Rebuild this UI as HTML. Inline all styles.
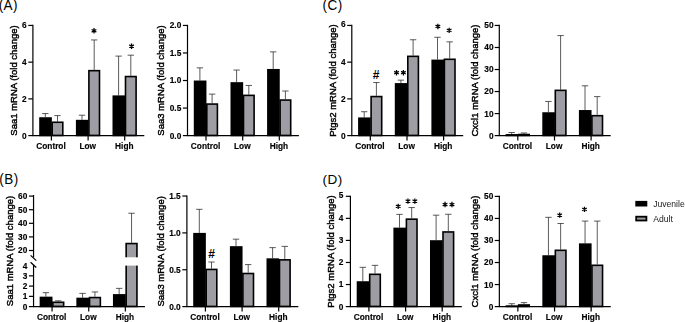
<!DOCTYPE html>
<html><head><meta charset="utf-8"><title>Figure</title>
<style>
html,body{margin:0;padding:0;background:#fff;}
body{width:685px;height:322px;overflow:hidden;font-family:"Liberation Sans",sans-serif;}
svg{display:block;position:absolute;left:0;top:0;}
#g{will-change:transform;}
text{font-family:"Liberation Sans",sans-serif;fill:#000;}
.tk{font-size:8.3px;font-weight:bold;stroke:#000;stroke-width:0.15px;}
.yl{font-size:9.5px;stroke:#000;stroke-width:0.42px;}
.st{font-size:13px;font-weight:bold;}
.hs{font-size:12px;font-weight:bold;}
.lg{font-size:8.6px;fill:#1a1a1a;}
.pl{font-size:13.5px;letter-spacing:0.45px;}
</style></head>
<body>
<svg width="685" height="322" viewBox="0 0 685 322">
<text x="376.20" y="78.50" text-anchor="middle" class="hs">#</text>
<text x="211.60" y="257.60" text-anchor="middle" class="hs">#</text>
<text transform="translate(-1.3 9.55) scale(1 1.06)" class="pl" style="letter-spacing:0.35px">(A)</text>
<text transform="translate(-0.7 183.7) scale(1 1.02)" class="pl">(B)</text>
<text transform="translate(322.6 9.55) scale(1 1.06)" class="pl">(C)</text>
<text transform="translate(322.5 183.8) scale(1 1.0)" class="pl">(D)</text>
</svg>
<svg id="g" width="685" height="322" viewBox="0 0 685 322">
<path d="M45.30 117.24V113.57M42.10 113.57H48.50" stroke="#262626" stroke-width="0.75" fill="none"/>
<path d="M57.50 121.46V115.59M54.30 115.59H60.70" stroke="#262626" stroke-width="0.75" fill="none"/>
<path d="M82.00 119.81V115.22M78.80 115.22H85.20" stroke="#262626" stroke-width="0.75" fill="none"/>
<path d="M94.20 69.87V39.94M91.00 39.94H97.40" stroke="#262626" stroke-width="0.75" fill="none"/>
<path d="M118.60 95.39V56.10M115.40 56.10H121.80" stroke="#262626" stroke-width="0.75" fill="none"/>
<path d="M130.80 75.75V55.18M127.60 55.18H134.00" stroke="#262626" stroke-width="0.75" fill="none"/>
<rect x="40.00" y="118.04" width="11.05" height="17.38" fill="#000" stroke="#000" stroke-width="1.6"/>
<rect x="52.20" y="122.26" width="10.60" height="13.16" fill="#9e9da3" stroke="#000" stroke-width="1.6"/>
<rect x="76.70" y="120.61" width="11.05" height="14.81" fill="#000" stroke="#000" stroke-width="1.6"/>
<rect x="88.90" y="70.67" width="10.60" height="64.75" fill="#9e9da3" stroke="#000" stroke-width="1.6"/>
<rect x="113.30" y="96.19" width="11.05" height="39.23" fill="#000" stroke="#000" stroke-width="1.6"/>
<rect x="125.50" y="76.55" width="10.60" height="58.88" fill="#9e9da3" stroke="#000" stroke-width="1.6"/>
<path d="M32.90 24.84V135.60" stroke="#000" stroke-width="1.2" fill="none"/>
<path d="M32.30 135.60H144.30" stroke="#000" stroke-width="1.2" fill="none"/>
<path d="M28.30 135.60H32.90" stroke="#000" stroke-width="1.2"/>
<text x="26.70" y="138.55" text-anchor="end" class="tk">0</text>
<path d="M28.30 98.88H32.90" stroke="#000" stroke-width="1.2"/>
<text x="26.70" y="101.83" text-anchor="end" class="tk">2</text>
<path d="M28.30 62.16H32.90" stroke="#000" stroke-width="1.2"/>
<text x="26.70" y="65.11" text-anchor="end" class="tk">4</text>
<path d="M28.30 25.44H32.90" stroke="#000" stroke-width="1.2"/>
<text x="26.70" y="28.39" text-anchor="end" class="tk">6</text>
<path d="M51.40 135.60V140.50" stroke="#000" stroke-width="1.2"/>
<text x="51.00" y="149.45" text-anchor="middle" class="tk">Control</text>
<path d="M88.10 135.60V140.50" stroke="#000" stroke-width="1.2"/>
<text x="87.70" y="149.45" text-anchor="middle" class="tk">Low</text>
<path d="M124.70 135.60V140.50" stroke="#000" stroke-width="1.2"/>
<text x="124.30" y="149.45" text-anchor="middle" class="tk">High</text>
<text transform="translate(16.90 80.52) rotate(-90)" text-anchor="middle" class="yl">Saa1 mRNA (fold change)</text>
<path d="M94.00 28.10L94.00 33.50M91.66 29.45L96.34 32.15M96.34 29.45L91.66 32.15" stroke="#000" stroke-width="1.25" fill="none"/>
<path d="M131.55 43.50L131.55 48.90M129.21 44.85L133.89 47.55M133.89 44.85L129.21 47.55" stroke="#000" stroke-width="1.25" fill="none"/>
<path d="M199.90 80.52V67.85M196.70 67.85H203.10" stroke="#262626" stroke-width="0.75" fill="none"/>
<path d="M212.10 103.27V94.12M208.90 94.12H215.30" stroke="#262626" stroke-width="0.75" fill="none"/>
<path d="M236.60 82.17V70.05M233.40 70.05H239.80" stroke="#262626" stroke-width="0.75" fill="none"/>
<path d="M248.80 94.57V85.48M245.60 85.48H252.00" stroke="#262626" stroke-width="0.75" fill="none"/>
<path d="M273.20 68.95V51.88M270.00 51.88H276.40" stroke="#262626" stroke-width="0.75" fill="none"/>
<path d="M285.40 99.25V90.99M282.20 90.99H288.60" stroke="#262626" stroke-width="0.75" fill="none"/>
<rect x="194.60" y="81.32" width="11.05" height="54.10" fill="#000" stroke="#000" stroke-width="1.6"/>
<rect x="206.80" y="104.07" width="10.60" height="31.36" fill="#9e9da3" stroke="#000" stroke-width="1.6"/>
<rect x="231.30" y="82.97" width="11.05" height="52.45" fill="#000" stroke="#000" stroke-width="1.6"/>
<rect x="243.50" y="95.37" width="10.60" height="40.06" fill="#9e9da3" stroke="#000" stroke-width="1.6"/>
<rect x="267.90" y="69.75" width="11.05" height="65.67" fill="#000" stroke="#000" stroke-width="1.6"/>
<rect x="280.10" y="100.05" width="10.60" height="35.38" fill="#9e9da3" stroke="#000" stroke-width="1.6"/>
<path d="M187.50 24.84V135.60" stroke="#000" stroke-width="1.2" fill="none"/>
<path d="M186.90 135.60H298.90" stroke="#000" stroke-width="1.2" fill="none"/>
<path d="M182.90 135.60H187.50" stroke="#000" stroke-width="1.2"/>
<text x="181.30" y="138.55" text-anchor="end" class="tk">0.0</text>
<path d="M182.90 108.06H187.50" stroke="#000" stroke-width="1.2"/>
<text x="181.30" y="111.01" text-anchor="end" class="tk">0.5</text>
<path d="M182.90 80.52H187.50" stroke="#000" stroke-width="1.2"/>
<text x="181.30" y="83.47" text-anchor="end" class="tk">1.0</text>
<path d="M182.90 52.98H187.50" stroke="#000" stroke-width="1.2"/>
<text x="181.30" y="55.93" text-anchor="end" class="tk">1.5</text>
<path d="M182.90 25.44H187.50" stroke="#000" stroke-width="1.2"/>
<text x="181.30" y="28.39" text-anchor="end" class="tk">2.0</text>
<path d="M206.00 135.60V140.50" stroke="#000" stroke-width="1.2"/>
<text x="205.60" y="149.45" text-anchor="middle" class="tk">Control</text>
<path d="M242.70 135.60V140.50" stroke="#000" stroke-width="1.2"/>
<text x="242.30" y="149.45" text-anchor="middle" class="tk">Low</text>
<path d="M279.30 135.60V140.50" stroke="#000" stroke-width="1.2"/>
<text x="278.90" y="149.45" text-anchor="middle" class="tk">High</text>
<text transform="translate(164.10 80.52) rotate(-90)" text-anchor="middle" class="yl">Saa3 mRNA (fold change)</text>
<path d="M364.20 117.42V111.73M361.00 111.73H367.40" stroke="#262626" stroke-width="0.75" fill="none"/>
<path d="M376.40 95.76V82.54M373.20 82.54H379.60" stroke="#262626" stroke-width="0.75" fill="none"/>
<path d="M400.90 83.09V80.15M397.70 80.15H404.10" stroke="#262626" stroke-width="0.75" fill="none"/>
<path d="M413.10 55.55V39.76M409.90 39.76H416.30" stroke="#262626" stroke-width="0.75" fill="none"/>
<path d="M437.50 59.59V37.28M434.30 37.28H440.70" stroke="#262626" stroke-width="0.75" fill="none"/>
<path d="M449.70 58.49V41.87M446.50 41.87H452.90" stroke="#262626" stroke-width="0.75" fill="none"/>
<rect x="358.90" y="118.22" width="11.05" height="17.20" fill="#000" stroke="#000" stroke-width="1.6"/>
<rect x="371.10" y="96.56" width="10.60" height="38.87" fill="#9e9da3" stroke="#000" stroke-width="1.6"/>
<rect x="395.60" y="83.89" width="11.05" height="51.53" fill="#000" stroke="#000" stroke-width="1.6"/>
<rect x="407.80" y="56.35" width="10.60" height="79.07" fill="#9e9da3" stroke="#000" stroke-width="1.6"/>
<rect x="432.20" y="60.39" width="11.05" height="75.04" fill="#000" stroke="#000" stroke-width="1.6"/>
<rect x="444.40" y="59.29" width="10.60" height="76.14" fill="#9e9da3" stroke="#000" stroke-width="1.6"/>
<path d="M351.80 24.84V135.60" stroke="#000" stroke-width="1.2" fill="none"/>
<path d="M351.20 135.60H463.20" stroke="#000" stroke-width="1.2" fill="none"/>
<path d="M347.20 135.60H351.80" stroke="#000" stroke-width="1.2"/>
<text x="345.60" y="138.55" text-anchor="end" class="tk">0</text>
<path d="M347.20 98.88H351.80" stroke="#000" stroke-width="1.2"/>
<text x="345.60" y="101.83" text-anchor="end" class="tk">2</text>
<path d="M347.20 62.16H351.80" stroke="#000" stroke-width="1.2"/>
<text x="345.60" y="65.11" text-anchor="end" class="tk">4</text>
<path d="M347.20 25.44H351.80" stroke="#000" stroke-width="1.2"/>
<text x="345.60" y="27.39" text-anchor="end" class="tk">6</text>
<path d="M370.30 135.60V140.50" stroke="#000" stroke-width="1.2"/>
<text x="369.90" y="149.45" text-anchor="middle" class="tk">Control</text>
<path d="M407.00 135.60V140.50" stroke="#000" stroke-width="1.2"/>
<text x="406.60" y="149.45" text-anchor="middle" class="tk">Low</text>
<path d="M443.60 135.60V140.50" stroke="#000" stroke-width="1.2"/>
<text x="443.20" y="149.45" text-anchor="middle" class="tk">High</text>
<text transform="translate(335.60 80.52) rotate(-90)" text-anchor="middle" class="yl">Ptgs2 mRNA (fold change)</text>
<path d="M396.50 70.00L396.50 75.40M394.16 71.35L398.84 74.05M398.84 71.35L394.16 74.05" stroke="#000" stroke-width="1.25" fill="none"/>
<path d="M403.40 70.00L403.40 75.40M401.06 71.35L405.74 74.05M405.74 71.35L401.06 74.05" stroke="#000" stroke-width="1.25" fill="none"/>
<path d="M437.85 23.75L437.85 29.15M435.51 25.10L440.19 27.80M440.19 25.10L435.51 27.80" stroke="#000" stroke-width="1.25" fill="none"/>
<path d="M449.15 27.70L449.15 33.10M446.81 29.05L451.49 31.75M451.49 29.05L446.81 31.75" stroke="#000" stroke-width="1.25" fill="none"/>
<path d="M511.70 134.06V132.52M508.50 132.52H514.90" stroke="#262626" stroke-width="0.75" fill="none"/>
<path d="M523.90 133.73V132.96M520.70 132.96H527.10" stroke="#262626" stroke-width="0.75" fill="none"/>
<path d="M548.40 112.25V101.45M545.20 101.45H551.60" stroke="#262626" stroke-width="0.75" fill="none"/>
<path d="M560.60 89.56V35.58M557.40 35.58H563.80" stroke="#262626" stroke-width="0.75" fill="none"/>
<path d="M585.00 110.05V85.81M581.80 85.81H588.20" stroke="#262626" stroke-width="0.75" fill="none"/>
<path d="M597.20 114.89V96.61M594.00 96.61H600.40" stroke="#262626" stroke-width="0.75" fill="none"/>
<rect x="506.40" y="134.86" width="11.05" height="0.57" fill="#000" stroke="#000" stroke-width="1.6"/>
<rect x="518.60" y="134.53" width="10.60" height="0.90" fill="#9e9da3" stroke="#000" stroke-width="1.6"/>
<rect x="543.10" y="113.05" width="11.05" height="22.38" fill="#000" stroke="#000" stroke-width="1.6"/>
<rect x="555.30" y="90.36" width="10.60" height="45.07" fill="#9e9da3" stroke="#000" stroke-width="1.6"/>
<rect x="579.70" y="110.85" width="11.05" height="24.58" fill="#000" stroke="#000" stroke-width="1.6"/>
<rect x="591.90" y="115.69" width="10.60" height="19.73" fill="#9e9da3" stroke="#000" stroke-width="1.6"/>
<path d="M499.30 24.85V135.60" stroke="#000" stroke-width="1.2" fill="none"/>
<path d="M498.70 135.60H610.70" stroke="#000" stroke-width="1.2" fill="none"/>
<path d="M494.70 135.60H499.30" stroke="#000" stroke-width="1.2"/>
<text x="493.50" y="138.55" text-anchor="end" class="tk">0</text>
<path d="M494.70 113.57H499.30" stroke="#000" stroke-width="1.2"/>
<text x="493.50" y="116.52" text-anchor="end" class="tk">10</text>
<path d="M494.70 91.54H499.30" stroke="#000" stroke-width="1.2"/>
<text x="493.50" y="94.49" text-anchor="end" class="tk">20</text>
<path d="M494.70 69.51H499.30" stroke="#000" stroke-width="1.2"/>
<text x="493.50" y="72.46" text-anchor="end" class="tk">30</text>
<path d="M494.70 47.48H499.30" stroke="#000" stroke-width="1.2"/>
<text x="493.50" y="50.43" text-anchor="end" class="tk">40</text>
<path d="M494.70 25.45H499.30" stroke="#000" stroke-width="1.2"/>
<text x="493.50" y="28.40" text-anchor="end" class="tk">50</text>
<path d="M517.80 135.60V140.50" stroke="#000" stroke-width="1.2"/>
<text x="517.40" y="149.45" text-anchor="middle" class="tk">Control</text>
<path d="M554.50 135.60V140.50" stroke="#000" stroke-width="1.2"/>
<text x="554.10" y="149.45" text-anchor="middle" class="tk">Low</text>
<path d="M591.10 135.60V140.50" stroke="#000" stroke-width="1.2"/>
<text x="590.70" y="149.45" text-anchor="middle" class="tk">High</text>
<text transform="translate(478.00 80.53) rotate(-90)" text-anchor="middle" class="yl">Cxcl1 mRNA (fold change)</text>
<path d="M199.30 232.90V209.32M196.10 209.32H202.50" stroke="#262626" stroke-width="0.75" fill="none"/>
<path d="M211.50 268.64V262.01M208.30 262.01H214.70" stroke="#262626" stroke-width="0.75" fill="none"/>
<path d="M236.00 246.17V239.16M232.80 239.16H239.20" stroke="#262626" stroke-width="0.75" fill="none"/>
<path d="M248.20 272.70V264.59M245.00 264.59H251.40" stroke="#262626" stroke-width="0.75" fill="none"/>
<path d="M272.60 258.33V247.64M269.40 247.64H275.80" stroke="#262626" stroke-width="0.75" fill="none"/>
<path d="M284.80 259.06V246.39M281.60 246.39H288.00" stroke="#262626" stroke-width="0.75" fill="none"/>
<rect x="194.00" y="233.70" width="11.05" height="72.72" fill="#000" stroke="#000" stroke-width="1.6"/>
<rect x="206.20" y="269.44" width="10.60" height="36.98" fill="#9e9da3" stroke="#000" stroke-width="1.6"/>
<rect x="230.70" y="246.97" width="11.05" height="59.46" fill="#000" stroke="#000" stroke-width="1.6"/>
<rect x="242.90" y="273.50" width="10.60" height="32.93" fill="#9e9da3" stroke="#000" stroke-width="1.6"/>
<rect x="267.30" y="259.13" width="11.05" height="47.30" fill="#000" stroke="#000" stroke-width="1.6"/>
<rect x="279.50" y="259.86" width="10.60" height="46.56" fill="#9e9da3" stroke="#000" stroke-width="1.6"/>
<path d="M186.90 195.45V306.60" stroke="#000" stroke-width="1.2" fill="none"/>
<path d="M186.30 306.60H298.30" stroke="#000" stroke-width="1.2" fill="none"/>
<path d="M182.30 306.60H186.90" stroke="#000" stroke-width="1.2"/>
<text x="180.70" y="309.55" text-anchor="end" class="tk">0.0</text>
<path d="M182.30 269.75H186.90" stroke="#000" stroke-width="1.2"/>
<text x="180.70" y="272.70" text-anchor="end" class="tk">0.5</text>
<path d="M182.30 232.90H186.90" stroke="#000" stroke-width="1.2"/>
<text x="180.70" y="235.85" text-anchor="end" class="tk">1.0</text>
<path d="M182.30 196.05H186.90" stroke="#000" stroke-width="1.2"/>
<text x="180.70" y="199.00" text-anchor="end" class="tk">1.5</text>
<path d="M205.40 306.60V311.50" stroke="#000" stroke-width="1.2"/>
<text x="205.00" y="320.45" text-anchor="middle" class="tk">Control</text>
<path d="M242.10 306.60V311.50" stroke="#000" stroke-width="1.2"/>
<text x="241.70" y="320.45" text-anchor="middle" class="tk">Low</text>
<path d="M278.70 306.60V311.50" stroke="#000" stroke-width="1.2"/>
<text x="278.30" y="320.45" text-anchor="middle" class="tk">High</text>
<text transform="translate(163.50 251.33) rotate(-90)" text-anchor="middle" class="yl">Saa3 mRNA (fold change)</text>
<path d="M362.80 281.23V267.33M359.60 267.33H366.00" stroke="#262626" stroke-width="0.75" fill="none"/>
<path d="M375.00 273.51V265.35M371.80 265.35H378.20" stroke="#262626" stroke-width="0.75" fill="none"/>
<path d="M399.50 227.63V214.39M396.30 214.39H402.70" stroke="#262626" stroke-width="0.75" fill="none"/>
<path d="M411.70 218.36V207.55M408.50 207.55H414.90" stroke="#262626" stroke-width="0.75" fill="none"/>
<path d="M436.10 240.20V215.16M432.90 215.16H439.30" stroke="#262626" stroke-width="0.75" fill="none"/>
<path d="M448.30 231.15V214.28M445.10 214.28H451.50" stroke="#262626" stroke-width="0.75" fill="none"/>
<rect x="357.50" y="282.03" width="11.05" height="24.39" fill="#000" stroke="#000" stroke-width="1.6"/>
<rect x="369.70" y="274.31" width="10.60" height="32.11" fill="#9e9da3" stroke="#000" stroke-width="1.6"/>
<rect x="394.20" y="228.43" width="11.05" height="78.00" fill="#000" stroke="#000" stroke-width="1.6"/>
<rect x="406.40" y="219.16" width="10.60" height="87.27" fill="#9e9da3" stroke="#000" stroke-width="1.6"/>
<rect x="430.80" y="241.00" width="11.05" height="65.43" fill="#000" stroke="#000" stroke-width="1.6"/>
<rect x="443.00" y="231.95" width="10.60" height="74.47" fill="#9e9da3" stroke="#000" stroke-width="1.6"/>
<path d="M350.40 195.70V306.60" stroke="#000" stroke-width="1.2" fill="none"/>
<path d="M349.80 306.60H461.80" stroke="#000" stroke-width="1.2" fill="none"/>
<path d="M345.80 306.60H350.40" stroke="#000" stroke-width="1.2"/>
<text x="343.30" y="309.55" text-anchor="end" class="tk">0</text>
<path d="M345.80 284.54H350.40" stroke="#000" stroke-width="1.2"/>
<text x="343.30" y="287.49" text-anchor="end" class="tk">1</text>
<path d="M345.80 262.48H350.40" stroke="#000" stroke-width="1.2"/>
<text x="343.30" y="265.43" text-anchor="end" class="tk">2</text>
<path d="M345.80 240.42H350.40" stroke="#000" stroke-width="1.2"/>
<text x="343.30" y="243.37" text-anchor="end" class="tk">3</text>
<path d="M345.80 218.36H350.40" stroke="#000" stroke-width="1.2"/>
<text x="343.30" y="221.31" text-anchor="end" class="tk">4</text>
<path d="M345.80 196.30H350.40" stroke="#000" stroke-width="1.2"/>
<text x="343.30" y="198.35" text-anchor="end" class="tk">5</text>
<path d="M368.90 306.60V311.50" stroke="#000" stroke-width="1.2"/>
<text x="368.50" y="320.45" text-anchor="middle" class="tk">Control</text>
<path d="M405.60 306.60V311.50" stroke="#000" stroke-width="1.2"/>
<text x="405.20" y="320.45" text-anchor="middle" class="tk">Low</text>
<path d="M442.20 306.60V311.50" stroke="#000" stroke-width="1.2"/>
<text x="441.80" y="320.45" text-anchor="middle" class="tk">High</text>
<text transform="translate(334.00 251.45) rotate(-90)" text-anchor="middle" class="yl">Ptgs2 mRNA (fold change)</text>
<path d="M398.20 203.70L398.20 209.10M395.86 205.05L400.54 207.75M400.54 205.05L395.86 207.75" stroke="#000" stroke-width="1.25" fill="none"/>
<path d="M407.95 198.40L407.95 203.80M405.61 199.75L410.29 202.45M410.29 199.75L405.61 202.45" stroke="#000" stroke-width="1.25" fill="none"/>
<path d="M414.85 198.40L414.85 203.80M412.51 199.75L417.19 202.45M417.19 199.75L412.51 202.45" stroke="#000" stroke-width="1.25" fill="none"/>
<path d="M445.05 201.85L445.05 207.25M442.71 203.20L447.39 205.90M447.39 203.20L442.71 205.90" stroke="#000" stroke-width="1.25" fill="none"/>
<path d="M451.95 201.85L451.95 207.25M449.61 203.20L454.29 205.90M454.29 203.20L449.61 205.90" stroke="#000" stroke-width="1.25" fill="none"/>
<path d="M511.75 305.28V303.73M508.55 303.73H514.95" stroke="#262626" stroke-width="0.75" fill="none"/>
<path d="M523.95 304.18V302.63M520.75 302.63H527.15" stroke="#262626" stroke-width="0.75" fill="none"/>
<path d="M548.45 255.25V217.34M545.25 217.34H551.65" stroke="#262626" stroke-width="0.75" fill="none"/>
<path d="M560.65 249.52V223.51M557.45 223.51H563.85" stroke="#262626" stroke-width="0.75" fill="none"/>
<path d="M585.05 243.35V221.08M581.85 221.08H588.25" stroke="#262626" stroke-width="0.75" fill="none"/>
<path d="M597.25 264.50V221.08M594.05 221.08H600.45" stroke="#262626" stroke-width="0.75" fill="none"/>
<rect x="506.45" y="306.08" width="11.05" height="0.35" fill="#000" stroke="#000" stroke-width="1.6"/>
<rect x="518.65" y="304.98" width="10.60" height="1.45" fill="#9e9da3" stroke="#000" stroke-width="1.6"/>
<rect x="543.15" y="256.05" width="11.05" height="50.38" fill="#000" stroke="#000" stroke-width="1.6"/>
<rect x="555.35" y="250.32" width="10.60" height="56.11" fill="#9e9da3" stroke="#000" stroke-width="1.6"/>
<rect x="579.75" y="244.15" width="11.05" height="62.28" fill="#000" stroke="#000" stroke-width="1.6"/>
<rect x="591.95" y="265.30" width="10.60" height="41.12" fill="#9e9da3" stroke="#000" stroke-width="1.6"/>
<path d="M499.35 195.80V306.60" stroke="#000" stroke-width="1.2" fill="none"/>
<path d="M498.75 306.60H610.75" stroke="#000" stroke-width="1.2" fill="none"/>
<path d="M494.75 306.60H499.35" stroke="#000" stroke-width="1.2"/>
<text x="493.35" y="309.55" text-anchor="end" class="tk">0</text>
<path d="M494.75 284.56H499.35" stroke="#000" stroke-width="1.2"/>
<text x="493.35" y="287.51" text-anchor="end" class="tk">10</text>
<path d="M494.75 262.52H499.35" stroke="#000" stroke-width="1.2"/>
<text x="493.35" y="265.47" text-anchor="end" class="tk">20</text>
<path d="M494.75 240.48H499.35" stroke="#000" stroke-width="1.2"/>
<text x="493.35" y="243.43" text-anchor="end" class="tk">30</text>
<path d="M494.75 218.44H499.35" stroke="#000" stroke-width="1.2"/>
<text x="493.35" y="221.39" text-anchor="end" class="tk">40</text>
<path d="M494.75 196.40H499.35" stroke="#000" stroke-width="1.2"/>
<text x="493.35" y="199.35" text-anchor="end" class="tk">50</text>
<path d="M517.85 306.60V311.50" stroke="#000" stroke-width="1.2"/>
<text x="517.45" y="320.45" text-anchor="middle" class="tk">Control</text>
<path d="M554.55 306.60V311.50" stroke="#000" stroke-width="1.2"/>
<text x="554.15" y="320.45" text-anchor="middle" class="tk">Low</text>
<path d="M591.15 306.60V311.50" stroke="#000" stroke-width="1.2"/>
<text x="590.75" y="320.45" text-anchor="middle" class="tk">High</text>
<text transform="translate(478.10 251.50) rotate(-90)" text-anchor="middle" class="yl">Cxcl1 mRNA (fold change)</text>
<path d="M559.70 212.40L559.70 217.80M557.36 213.75L562.04 216.45M562.04 213.75L557.36 216.45" stroke="#000" stroke-width="1.25" fill="none"/>
<path d="M584.50 206.70L584.50 212.10M582.16 208.05L586.84 210.75M586.84 208.05L582.16 210.75" stroke="#000" stroke-width="1.25" fill="none"/>
<path d="M45.85 296.66V292.66M42.65 292.66H49.05" stroke="#262626" stroke-width="0.75" fill="none"/>
<path d="M58.25 301.48V300.81M55.05 300.81H61.45" stroke="#262626" stroke-width="0.75" fill="none"/>
<path d="M82.55 297.68V293.38M79.35 293.38H85.75" stroke="#262626" stroke-width="0.75" fill="none"/>
<path d="M94.95 296.76V291.94M91.75 291.94H98.15" stroke="#262626" stroke-width="0.75" fill="none"/>
<path d="M119.15 294.10V288.36M115.95 288.36H122.35" stroke="#262626" stroke-width="0.75" fill="none"/>
<path d="M131.55 242.75V213.24M128.35 213.24H134.75" stroke="#262626" stroke-width="0.75" fill="none"/>
<rect x="40.45" y="297.46" width="11.25" height="8.97" fill="#000" stroke="#000" stroke-width="1.6"/>
<rect x="52.85" y="302.28" width="10.80" height="4.15" fill="#9e9da3" stroke="#000" stroke-width="1.6"/>
<rect x="77.15" y="298.48" width="11.25" height="7.94" fill="#000" stroke="#000" stroke-width="1.6"/>
<rect x="89.55" y="297.56" width="10.80" height="8.86" fill="#9e9da3" stroke="#000" stroke-width="1.6"/>
<rect x="113.75" y="294.90" width="11.25" height="11.53" fill="#000" stroke="#000" stroke-width="1.6"/>
<rect x="126.15" y="243.55" width="10.80" height="62.88" fill="#9e9da3" stroke="#000" stroke-width="1.6"/>
<path d="M32.95 306.60H144.95" stroke="#000" stroke-width="1.2" fill="none"/>
<path d="M28.95 306.60H33.55" stroke="#000" stroke-width="1.2"/>
<text x="27.35" y="309.55" text-anchor="end" class="tk">0</text>
<path d="M28.95 296.35H33.55" stroke="#000" stroke-width="1.2"/>
<text x="27.35" y="299.30" text-anchor="end" class="tk">1</text>
<path d="M28.95 286.10H33.55" stroke="#000" stroke-width="1.2"/>
<text x="27.35" y="289.05" text-anchor="end" class="tk">2</text>
<path d="M28.95 275.85H33.55" stroke="#000" stroke-width="1.2"/>
<text x="27.35" y="278.80" text-anchor="end" class="tk">3</text>
<text x="27.35" y="268.55" text-anchor="end" class="tk">4</text>
<path d="M28.95 250.50H33.55" stroke="#000" stroke-width="1.2"/>
<text x="27.35" y="253.45" text-anchor="end" class="tk">20</text>
<path d="M28.95 236.90H33.55" stroke="#000" stroke-width="1.2"/>
<text x="27.35" y="239.85" text-anchor="end" class="tk">30</text>
<path d="M28.95 223.30H33.55" stroke="#000" stroke-width="1.2"/>
<text x="27.35" y="226.25" text-anchor="end" class="tk">40</text>
<path d="M28.95 209.70H33.55" stroke="#000" stroke-width="1.2"/>
<text x="27.35" y="212.65" text-anchor="end" class="tk">50</text>
<path d="M28.95 196.10H33.55" stroke="#000" stroke-width="1.2"/>
<text x="27.35" y="199.05" text-anchor="end" class="tk">60</text>
<path d="M52.05 306.60V311.50" stroke="#000" stroke-width="1.2"/>
<text x="51.65" y="320.45" text-anchor="middle" class="tk">Control</text>
<path d="M88.75 306.60V311.50" stroke="#000" stroke-width="1.2"/>
<text x="88.35" y="320.45" text-anchor="middle" class="tk">Low</text>
<path d="M125.35 306.60V311.50" stroke="#000" stroke-width="1.2"/>
<text x="124.95" y="320.45" text-anchor="middle" class="tk">High</text>
<text transform="translate(12.95 251.00) rotate(-90)" text-anchor="middle" class="yl">Saa1 mRNA (fold change)</text>
<path d="M33.55 195.10V257.6M33.55 265.1V306.60" stroke="#000" stroke-width="1.2" fill="none"/>
<path d="M30.6 255.4L36.3 260.6M30.6 262.3L36.3 267.5" stroke="#000" stroke-width="1.25" fill="none"/>
<rect x="124" y="257.3" width="16" height="8.3" fill="#fff"/>
<rect x="635.3" y="200.9" width="12.0" height="5.6" fill="#000"/>
<rect x="636.2" y="216.7" width="10.2" height="3.8" fill="#9e9da3" stroke="#000" stroke-width="1.8"/>
<text x="653.2" y="206.9" class="lg">Juvenile</text>
<text x="653.2" y="221.7" class="lg">Adult</text>
</svg>
</body></html>
